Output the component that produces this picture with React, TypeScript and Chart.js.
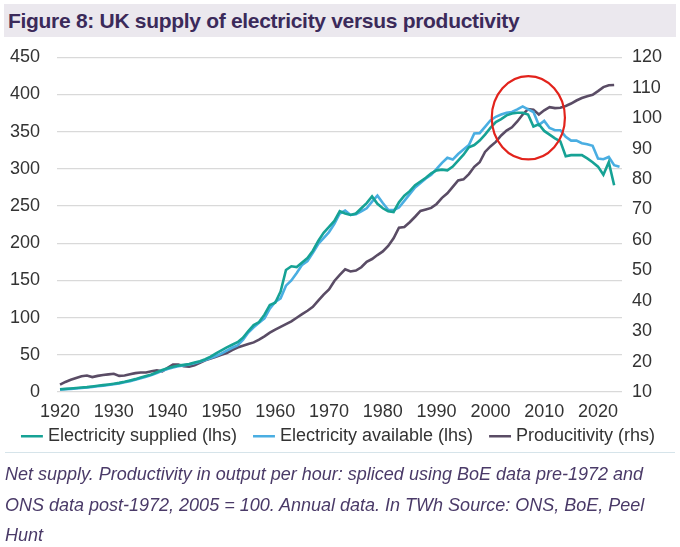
import React, { useEffect, useRef } from "react";
import { Chart, registerables } from "chart.js";

Chart.register(...registerables);

// ---- Data ----
const years = [
  1920, 1921, 1922, 1923, 1924, 1925, 1926, 1927, 1928, 1929,
  1930, 1931, 1932, 1933, 1934, 1935, 1936, 1937, 1938, 1939,
  1940, 1941, 1942, 1943, 1944, 1945, 1946, 1947, 1948, 1949,
  1950, 1951, 1952, 1953, 1954, 1955, 1956, 1957, 1958, 1959,
  1960, 1961, 1962, 1963, 1964, 1965, 1966, 1967, 1968, 1969,
  1970, 1971, 1972, 1973, 1974, 1975, 1976, 1977, 1978, 1979,
  1980, 1981, 1982, 1983, 1984, 1985, 1986, 1987, 1988, 1989,
  1990, 1991, 1992, 1993, 1994, 1995, 1996, 1997, 1998, 1999,
  2000, 2001, 2002, 2003, 2004, 2005, 2006, 2007, 2008, 2009,
  2010, 2011, 2012, 2013, 2014, 2015, 2016, 2017, 2018, 2019,
  2020, 2021, 2022, 2023, 2024,
];

// Electricity supplied (TWh, lhs), 1920-2023
const electricitySupplied = [
  3.6, 4.2, 4.8, 5.4, 6.0, 6.6, 7.4, 8.3, 9.2, 10.2,
  11.2, 12.3, 13.8, 15.5, 17.3, 19.5, 21.5, 23.5, 26.5, 29.5,
  32.0, 34.0, 35.5, 36.5, 37.5, 39.5, 41.5, 44.0, 47.5, 52.0,
  56.0, 60.0, 63.5, 67.0, 73.0, 82.0, 90.0, 94.0, 104.0, 117.0,
  120.0, 135.0, 164.0, 169.0, 168.0, 174.0, 180.0, 190.0, 203.0, 214.0,
  222.0, 230.0, 243.0, 240.0, 238.0, 240.0, 247.0, 254.0, 263.0, 253.0,
  247.0, 243.0, 242.0, 255.0, 264.0, 270.0, 278.0, 283.0, 288.0, 294.0,
  298.0, 299.0, 298.0, 303.0, 311.0, 319.0, 329.0, 332.0, 338.0, 346.0,
  355.0, 363.0, 367.0, 372.0, 374.5, 375.5, 375.5, 373.0, 357.0, 360.0,
  351.0, 346.0, 341.0, 337.0, 317.0, 318.5, 318.5, 318.5, 314.0, 309.0,
  303.0, 292.0, 309.0, 278.0,
];

// Electricity available (TWh, lhs), 1920-2024
const electricityAvailable = [
  3.0, 3.6, 4.2, 4.8, 5.4, 6.1, 6.9, 7.7, 8.6, 9.5,
  10.5, 11.6, 13.0, 14.6, 16.5, 18.5, 20.5, 22.8, 25.5, 28.5,
  31.0, 33.0, 34.5, 35.8, 37.0, 38.8, 40.8, 43.0, 45.5, 48.5,
  51.5, 55.5, 59.5, 62.5, 70.0, 80.0, 87.0, 93.0, 99.0, 112.0,
  121.0, 126.0, 143.0, 150.0, 160.0, 171.0, 176.0, 187.0, 199.0, 207.0,
  215.0, 226.0, 240.0, 244.0, 238.0, 239.0, 243.0, 247.0, 256.0, 264.0,
  254.0, 245.0, 244.5, 248.0, 257.0, 266.0, 275.0, 281.0, 287.0, 292.0,
  300.0, 308.0, 315.0, 312.5, 320.0, 326.0, 332.0, 347.5, 348.0, 356.5,
  365.0, 370.0, 373.0, 375.5, 376.5, 380.0, 384.0, 380.0, 376.5, 359.0,
  364.5, 355.0, 352.0, 352.0, 343.0, 338.0, 338.0, 334.5, 333.0, 331.0,
  314.0, 313.0, 316.0, 305.0, 303.0,
];

// Productivity, output per hour, 2005 = 100 (rhs), 1920-2023
const productivity = [
  12.4, 13.3, 14.0, 14.6, 15.2, 15.4, 14.9, 15.3, 15.6, 15.8,
  16.0, 15.3, 15.4, 15.8, 16.2, 16.4, 16.4, 16.8, 17.1, 16.8,
  17.9, 19.0, 19.0, 18.5, 18.3, 18.8, 19.6, 20.4, 21.0, 21.6,
  22.2, 22.8, 23.8, 24.6, 25.2, 25.8, 26.3, 27.2, 28.3, 29.5,
  30.5, 31.4, 32.3, 33.2, 34.4, 35.6, 36.7, 38.0, 40.0, 42.0,
  43.7, 46.5, 48.5, 50.3, 49.6, 49.9, 51.0, 52.8, 53.7, 55.0,
  56.2, 58.0, 60.5, 64.0, 64.2, 65.8, 67.6, 69.5, 70.0, 70.5,
  71.8, 73.8, 75.3, 77.4, 79.5, 79.9, 81.6, 84.0, 85.5, 88.9,
  90.7, 92.2, 94.3, 95.9, 97.0, 98.9, 101.2, 103.0, 102.8, 101.2,
  102.6, 103.6, 103.3, 103.4, 104.0, 104.8, 105.8, 106.6, 107.2, 107.7,
  108.9, 110.2, 110.8, 110.9,
];

const xTickYears = [1920, 1930, 1940, 1950, 1960, 1970, 1980, 1990, 2000, 2010, 2020];
const leftTicks = [0, 50, 100, 150, 200, 250, 300, 350, 400, 450];
const rightTicks = [10, 20, 30, 40, 50, 60, 70, 80, 90, 100, 110, 120];

const seriesLabels = [
  "Electricity supplied (lhs)",
  "Electricity available (lhs)",
  "Producitivity (rhs)",
];
const seriesColors = ["#16a295", "#4aaee2", "#5a4c65"];

// Red highlight ring (in data units: year, lhs value)
const ringCenterYear = 2007.05;
const ringCenterValue = 368.7;
const ringHalfWidthYears = 6.8;
const ringHalfHeightValue = 56;

const FONT = "'Liberation Sans', Arial, Helvetica, sans-serif";

const toPoints = (vals: number[]) => vals.map((v, i) => ({ x: years[i], y: v }));

const ringPlugin = {
  id: "ringPlugin",
  afterDatasetsDraw(chart: any) {
    const xs = chart.scales.x;
    const ys = chart.scales.y;
    const cx = xs.getPixelForValue(ringCenterYear);
    const cy = ys.getPixelForValue(ringCenterValue);
    const rx = Math.abs(xs.getPixelForValue(ringCenterYear + ringHalfWidthYears) - cx);
    const ry = Math.abs(ys.getPixelForValue(ringCenterValue + ringHalfHeightValue) - cy);
    const ctx = chart.ctx;
    ctx.save();
    ctx.beginPath();
    ctx.ellipse(cx, cy, rx, ry, 0, 0, Math.PI * 2);
    ctx.strokeStyle = "#e2231c";
    ctx.lineWidth = 2.2;
    ctx.stroke();
    ctx.restore();
  },
};

// Lift the legend row closer to the axis labels (keeps legend item spacing)
const LEGEND_GAP = 16.3;
const legendLiftPlugin = {
  id: "legendLift",
  afterLayout(chart: any) {
    const lg = chart.legend;
    const xs = chart.scales.x;
    if (!lg || !xs) return;
    const desiredTop = xs.bottom + LEGEND_GAP - 29 + 0;
    const dy = desiredTop - lg.top;
    lg.top += dy;
    lg.bottom += dy;
  },
};

function ChartCanvas() {
  const ref = useRef<HTMLCanvasElement | null>(null);
  useEffect(() => {
    if (!ref.current) return;
    const tickFont = { family: FONT, size: 18 };
    const chart = new Chart(ref.current, {
      type: "line",
      data: {
        datasets: [
          {
            label: seriesLabels[0],
            data: toPoints(electricitySupplied),
            borderColor: seriesColors[0],
            backgroundColor: seriesColors[0],
            borderWidth: 2.6,
            pointRadius: 0,
            yAxisID: "y",
          },
          {
            label: seriesLabels[1],
            data: toPoints(electricityAvailable),
            borderColor: seriesColors[1],
            backgroundColor: seriesColors[1],
            borderWidth: 2.6,
            pointRadius: 0,
            yAxisID: "y",
          },
          {
            label: seriesLabels[2],
            data: toPoints(productivity),
            borderColor: seriesColors[2],
            backgroundColor: seriesColors[2],
            borderWidth: 2.6,
            pointRadius: 0,
            yAxisID: "y1",
          },
        ],
      },
      options: {
        responsive: false,
        animation: false,
        layout: { padding: { top: 17.3, left: 0, right: 0, bottom: 0 } },
        plugins: {
          tooltip: { enabled: false },
          legend: {
            position: "bottom",
            labels: {
              usePointStyle: true,
              pointStyle: "line",
              boxWidth: 14,
              boxHeight: 15.5,
              padding: 20,
              color: "#333333",
              font: { family: FONT, size: 18 },
            },
          },
        },
        scales: {
          x: {
            type: "linear",
            min: 1919.44,
            max: 2024.46,
            grid: { display: false, drawTicks: false },
            border: { display: false },
            afterBuildTicks: (axis: any) => {
              axis.ticks = xTickYears.map((v) => ({ value: v }));
            },
            afterFit: (axis: any) => {
              axis.height = 28;
            },
            ticks: {
              autoSkip: false,
              maxRotation: 0,
              padding: 9.5,
              color: "#333333",
              font: tickFont,
              callback: (v: any) => String(v),
            },
          },
          y: {
            position: "left",
            min: 0,
            max: 450,
            afterBuildTicks: (axis: any) => {
              axis.ticks = leftTicks.map((v) => ({ value: v }));
            },
            afterFit: (axis: any) => {
              axis.width = 57;
              axis.paddingTop = 0;
              axis.paddingBottom = 0;
            },
            grid: { color: "#d9d9d9", lineWidth: 1.3, drawTicks: false },
            border: { display: false },
            ticks: {
              padding: 17,
              color: "#333333",
              font: tickFont,
              callback: (v: any) => String(v),
            },
          },
          y1: {
            position: "right",
            min: 10,
            max: 120,
            afterBuildTicks: (axis: any) => {
              axis.ticks = rightTicks.map((v) => ({ value: v }));
            },
            afterFit: (axis: any) => {
              axis.width = 58;
              axis.paddingTop = 0;
              axis.paddingBottom = 0;
            },
            grid: { display: false, drawTicks: false },
            border: { display: false },
            ticks: {
              padding: 10,
              color: "#333333",
              font: tickFont,
              callback: (v: any) => String(v),
            },
          },
        },
      },
      plugins: [ringPlugin, legendLiftPlugin],
    } as any);
    return () => chart.destroy();
  }, []);
  return (
    <canvas
      ref={ref}
      width={680}
      height={428}
      style={{ position: "absolute", left: 0, top: 40, width: 680, height: 428 }}
    />
  );
}

export default function App() {
  return (
    <div
      style={{
        position: "absolute",
        left: 0,
        top: 0,
        width: 680,
        height: 547,
        background: "#ffffff",
        overflow: "hidden",
      }}
    >
      <div
        style={{
          position: "absolute",
          left: 4,
          top: 4,
          width: 672,
          height: 33,
          background: "#ebe8ee",
          color: "#3b2a5a",
          fontFamily: FONT,
          fontWeight: "bold",
          fontSize: 21,
          letterSpacing: "-0.3px",
          lineHeight: "33px",
          paddingLeft: 4,
          boxSizing: "border-box",
          whiteSpace: "nowrap",
        }}
      >
        Figure 8: UK supply of electricity versus productivity
      </div>
      <ChartCanvas />
      <div
        style={{
          position: "absolute",
          left: 5,
          top: 452,
          width: 670,
          height: 1,
          background: "#d6e4ea",
        }}
      />
      <div
        style={{
          position: "absolute",
          left: 5,
          top: 459,
          width: 675,
          fontFamily: FONT,
          fontStyle: "italic",
          fontSize: 18,
          lineHeight: "30.5px",
          color: "#4a3a68",
          whiteSpace: "nowrap",
        }}
      >
        Net supply. Productivity in output per hour: spliced using BoE data pre-1972 and
        <br />
        ONS data post-1972, 2005 = 100. Annual data. In TWh Source: ONS, BoE, Peel
        <br />
        Hunt
      </div>
    </div>
  );
}
